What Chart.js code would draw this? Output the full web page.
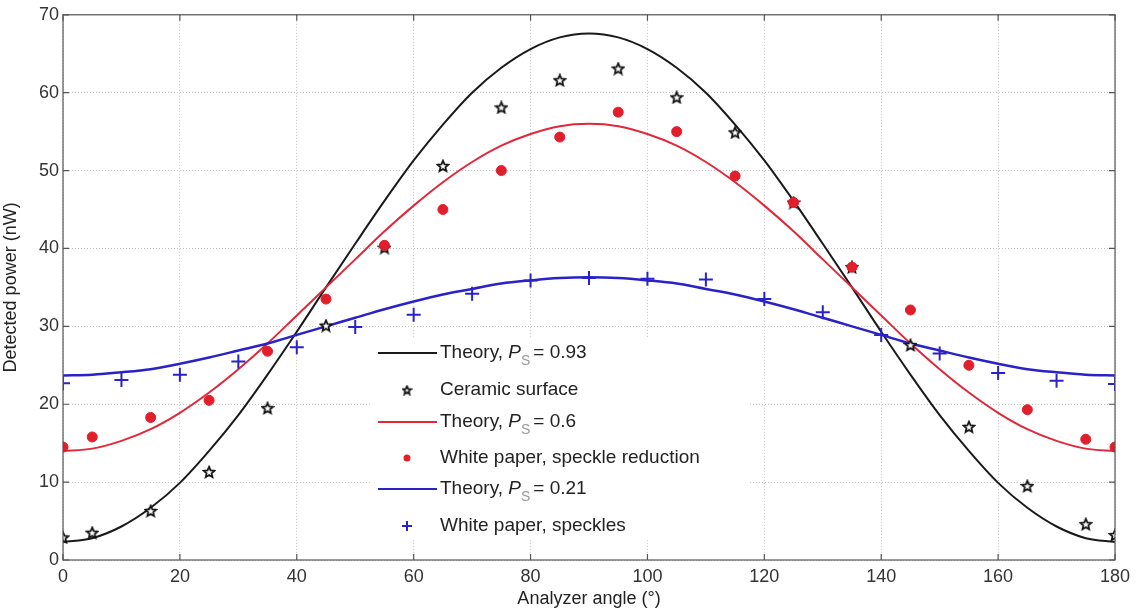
<!DOCTYPE html>
<html lang="en">
<head>
    <meta charset="UTF-8">
    <script src="https://cdn.jsdelivr.net/npm/chart.js"></script>
    <title>Detected power vs analyzer angle</title>
    <style>
        html, body { margin: 0; padding: 0; background: #fff; }
        #wrap { width: 1141px; height: 610px; position: relative; }
    </style>
</head>
<body>
<div id="wrap"><canvas id="powerChart" width="1141" height="610"></canvas></div>
<script>
    // theory curves, every 5 degrees
    const curveAngles = [0, 5, 10, 15, 20, 25, 30, 35, 40, 45, 50, 55, 60, 65, 70, 75, 80, 85, 90,
        95, 100, 105, 110, 115, 120, 125, 130, 135, 140, 145, 150, 155, 160, 165, 170, 175, 180];
    const theory093 = [2.3, 2.8, 4.3, 6.7, 9.9, 14.0, 18.6, 23.8, 29.3, 35.0, 40.6, 46.1, 51.3, 55.9, 60.0, 63.2, 65.6, 67.1, 67.6,
        67.1, 65.6, 63.2, 60.0, 55.9, 51.3, 46.1, 40.6, 35.0, 29.3, 23.8, 18.6, 14.0, 9.9, 6.7, 4.3, 2.8, 2.3];
    const theory06 = [14.0, 14.3, 15.3, 16.8, 18.9, 21.5, 24.5, 27.8, 31.4, 35.0, 38.6, 42.2, 45.5, 48.5, 51.1, 53.2, 54.7, 55.7, 56.0,
        55.7, 54.7, 53.2, 51.1, 48.5, 45.5, 42.2, 38.6, 35.0, 31.4, 27.8, 24.5, 21.5, 18.9, 16.8, 15.3, 14.3, 14.0];
    const theory021 = [23.7, 23.8, 24.1, 24.5, 25.2, 26.0, 26.9, 27.8, 28.9, 30.0, 31.1, 32.2, 33.2, 34.1, 34.8, 35.5, 35.9, 36.2, 36.3,
        36.2, 35.9, 35.5, 34.8, 34.1, 33.2, 32.2, 31.1, 30.0, 28.9, 27.8, 26.9, 26.0, 25.2, 24.5, 24.1, 23.8, 23.7];

    // measured points
    const oddAngles = [0, 5, 15, 25, 35, 45, 55, 65, 75, 85, 95, 105, 115, 125, 135, 145, 155, 165, 175, 180];
    const ceramic = [2.9, 3.5, 6.3, 11.3, 19.5, 30.1, 40.1, 50.6, 58.1, 61.6, 63.1, 59.4, 54.9, 45.9, 37.6, 27.6, 17.1, 9.5, 4.6, 3.2];
    const speckleReduction = [14.5, 15.8, 18.3, 20.5, 26.8, 33.5, 40.4, 45.0, 50.0, 54.3, 57.5, 55.0, 49.3, 45.9, 37.6, 32.1, 25.0, 19.3, 15.5, 14.5];
    const evenAngles = [0, 10, 20, 30, 40, 50, 60, 70, 80, 90, 100, 110, 120, 130, 140, 150, 160, 170, 180];
    const speckles = [22.7, 23.1, 23.8, 25.5, 27.3, 29.9, 31.5, 34.2, 35.9, 36.2, 36.1, 36.0, 33.5, 31.8, 28.9, 26.5, 24.0, 23.0, 22.6];

    const xTicks = [0, 20, 40, 60, 80, 100, 120, 140, 160, 180];
    const yTicks = [0, 10, 20, 30, 40, 50, 60, 70];

    const toXY = (xs, ys) => xs.map((x, i) => ({ x: x, y: ys[i] }));
    const family = '"Liberation Sans", Arial, sans-serif';

    // five-point star outline marker
    function makeStar(size, color) {
        const c = document.createElement('canvas');
        c.width = size; c.height = size;
        const g = c.getContext('2d');
        const cx = size / 2, cy = size / 2 + 0.5, ro = size / 2 - 1.2, ri = ro * 0.45;
        g.beginPath();
        for (let i = 0; i < 10; i++) {
            const r = i % 2 ? ri : ro;
            const a = -Math.PI / 2 + i * Math.PI / 5;
            const px = cx + r * Math.cos(a), py = cy + r * Math.sin(a);
            i ? g.lineTo(px, py) : g.moveTo(px, py);
        }
        g.closePath();
        g.fillStyle = '#fff';
        g.fill();
        g.lineWidth = 1.7;
        g.strokeStyle = color;
        g.stroke();
        return c;
    }
    const starImg = makeStar(14, '#111');
    const starSmall = makeStar(11, '#111');

    const black = '#1a1a1a', red = '#e0283a', blue = '#2a22c8', redDot = '#e21e2a';

    // axes box + inside ticks, MATLAB style
    const boxPlugin = {
        id: 'box',
        afterDatasetsDraw(chart) {
            const { ctx, chartArea: a, scales } = chart;
            ctx.save();
            ctx.strokeStyle = '#555';
            ctx.lineWidth = 1.2;
            ctx.strokeRect(a.left, a.top, a.right - a.left, a.bottom - a.top);
            ctx.beginPath();
            xTicks.forEach(v => {
                const px = scales.x.getPixelForValue(v);
                ctx.moveTo(px, a.bottom); ctx.lineTo(px, a.bottom - 6);
                ctx.moveTo(px, a.top); ctx.lineTo(px, a.top + 6);
            });
            yTicks.forEach(v => {
                const py = scales.y.getPixelForValue(v);
                ctx.moveTo(a.left, py); ctx.lineTo(a.left + 6, py);
                ctx.moveTo(a.right, py); ctx.lineTo(a.right - 6, py);
            });
            ctx.stroke();
            ctx.restore();
        }
    };

    // legend with italic P and subscript S
    const legendPlugin = {
        id: 'customLegend',
        afterDraw(chart) {
            const ctx = chart.ctx;
            const x0 = 370, y0 = 338;
            ctx.save();
            ctx.fillStyle = '#fff';
            ctx.fillRect(x0, y0, 380, 202);
            const rows = [
                { kind: 'line', color: black, label: 'Theory, ', ps: '0.93' },
                { kind: 'star', label: 'Ceramic surface' },
                { kind: 'line', color: red, label: 'Theory, ', ps: '0.6' },
                { kind: 'dot', label: 'White paper, speckle reduction' },
                { kind: 'line', color: blue, label: 'Theory, ', ps: '0.21' },
                { kind: 'plus', label: 'White paper, speckles' }
            ];
            const ys = [353, 390, 422, 458, 489, 526];
            const font = '19px ' + family;
            rows.forEach((r, i) => {
                const y = ys[i];
                if (r.kind === 'line') {
                    ctx.strokeStyle = r.color; ctx.lineWidth = 2;
                    ctx.beginPath(); ctx.moveTo(378, y); ctx.lineTo(437, y); ctx.stroke();
                } else if (r.kind === 'star') {
                    ctx.drawImage(starSmall, 407 - 5.5, y - 5.5);
                } else if (r.kind === 'dot') {
                    ctx.fillStyle = redDot;
                    ctx.beginPath(); ctx.arc(407, y, 3.5, 0, Math.PI * 2); ctx.fill();
                } else {
                    ctx.strokeStyle = blue; ctx.lineWidth = 2;
                    ctx.beginPath();
                    ctx.moveTo(402, y); ctx.lineTo(412, y);
                    ctx.moveTo(407, y - 5); ctx.lineTo(407, y + 5);
                    ctx.stroke();
                }
                ctx.fillStyle = '#222';
                ctx.textBaseline = 'middle';
                ctx.textAlign = 'left';
                ctx.font = font;
                ctx.fillText(r.label, 440, y);
                if (r.ps) {
                    let x = 440 + ctx.measureText(r.label).width;
                    ctx.font = 'italic ' + font;
                    ctx.fillText('P', x, y);
                    x += ctx.measureText('P').width;
                    ctx.font = '14px ' + family;
                    ctx.fillStyle = '#999';
                    ctx.fillText('S', x, y + 8);
                    x += ctx.measureText('S').width + 3;
                    ctx.font = font;
                    ctx.fillStyle = '#222';
                    ctx.fillText('= ' + r.ps, x, y);
                }
            });
            ctx.restore();
        }
    };

    const lineSet = (label, ys, color, width) => ({
        type: 'line',
        label: label,
        data: toXY(curveAngles, ys),
        borderColor: color,
        borderWidth: width,
        pointRadius: 0,
        fill: false,
        cubicInterpolationMode: 'monotone'
    });

    const ctx = document.getElementById('powerChart').getContext('2d');
    const powerChart = new Chart(ctx, {
        type: 'scatter',
        data: {
            datasets: [
                {
                    label: 'White paper, speckles',
                    data: toXY(evenAngles, speckles),
                    pointStyle: 'cross',
                    radius: 7,
                    borderColor: blue,
                    borderWidth: 2
                },
                {
                    label: 'White paper, speckle reduction',
                    data: toXY(oddAngles, speckleReduction),
                    pointStyle: 'circle',
                    radius: 5,
                    backgroundColor: redDot,
                    borderColor: redDot,
                    borderWidth: 1
                },
                {
                    label: 'Ceramic surface',
                    data: toXY(oddAngles, ceramic),
                    pointStyle: starImg
                },
                lineSet('Theory, PS = 0.21', theory021, blue, 2.5),
                lineSet('Theory, PS = 0.6', theory06, red, 2),
                lineSet('Theory, PS = 0.93', theory093, black, 2)
            ]
        },
        options: {
            responsive: false,
            animation: false,
            layout: { padding: { left: 0, top: 14, right: 26, bottom: 0 } },
            plugins: {
                legend: { display: false },
                tooltip: { enabled: false }
            },
            scales: {
                x: {
                    type: 'linear',
                    min: 0, max: 180,
                    afterFit: s => { s.height = 50; },
                    afterBuildTicks: s => { s.ticks = xTicks.map(v => ({ value: v })); },
                    grid: { color: '#c2c2c2', drawTicks: false },
                    border: { display: false, dash: [1, 2] },
                    ticks: { color: '#333', padding: 6, font: { size: 18, family: family } },
                    title: {
                        display: true, text: 'Analyzer angle (°)', color: '#222', padding: { top: 0, bottom: 0 },
                        font: { size: 18, family: family }
                    }
                },
                y: {
                    min: 0, max: 70,
                    afterFit: s => { s.width = 63; },
                    afterBuildTicks: s => { s.ticks = yTicks.map(v => ({ value: v })); },
                    grid: { color: '#c2c2c2', drawTicks: false },
                    border: { display: false, dash: [1, 2] },
                    ticks: { color: '#333', padding: 4, font: { size: 18, family: family } },
                    title: {
                        display: true, text: 'Detected power (nW)', color: '#222', padding: { top: 0, bottom: 2 },
                        font: { size: 18, family: family }
                    }
                }
            }
        },
        plugins: [boxPlugin, legendPlugin]
    });
</script>
</body>
</html>
